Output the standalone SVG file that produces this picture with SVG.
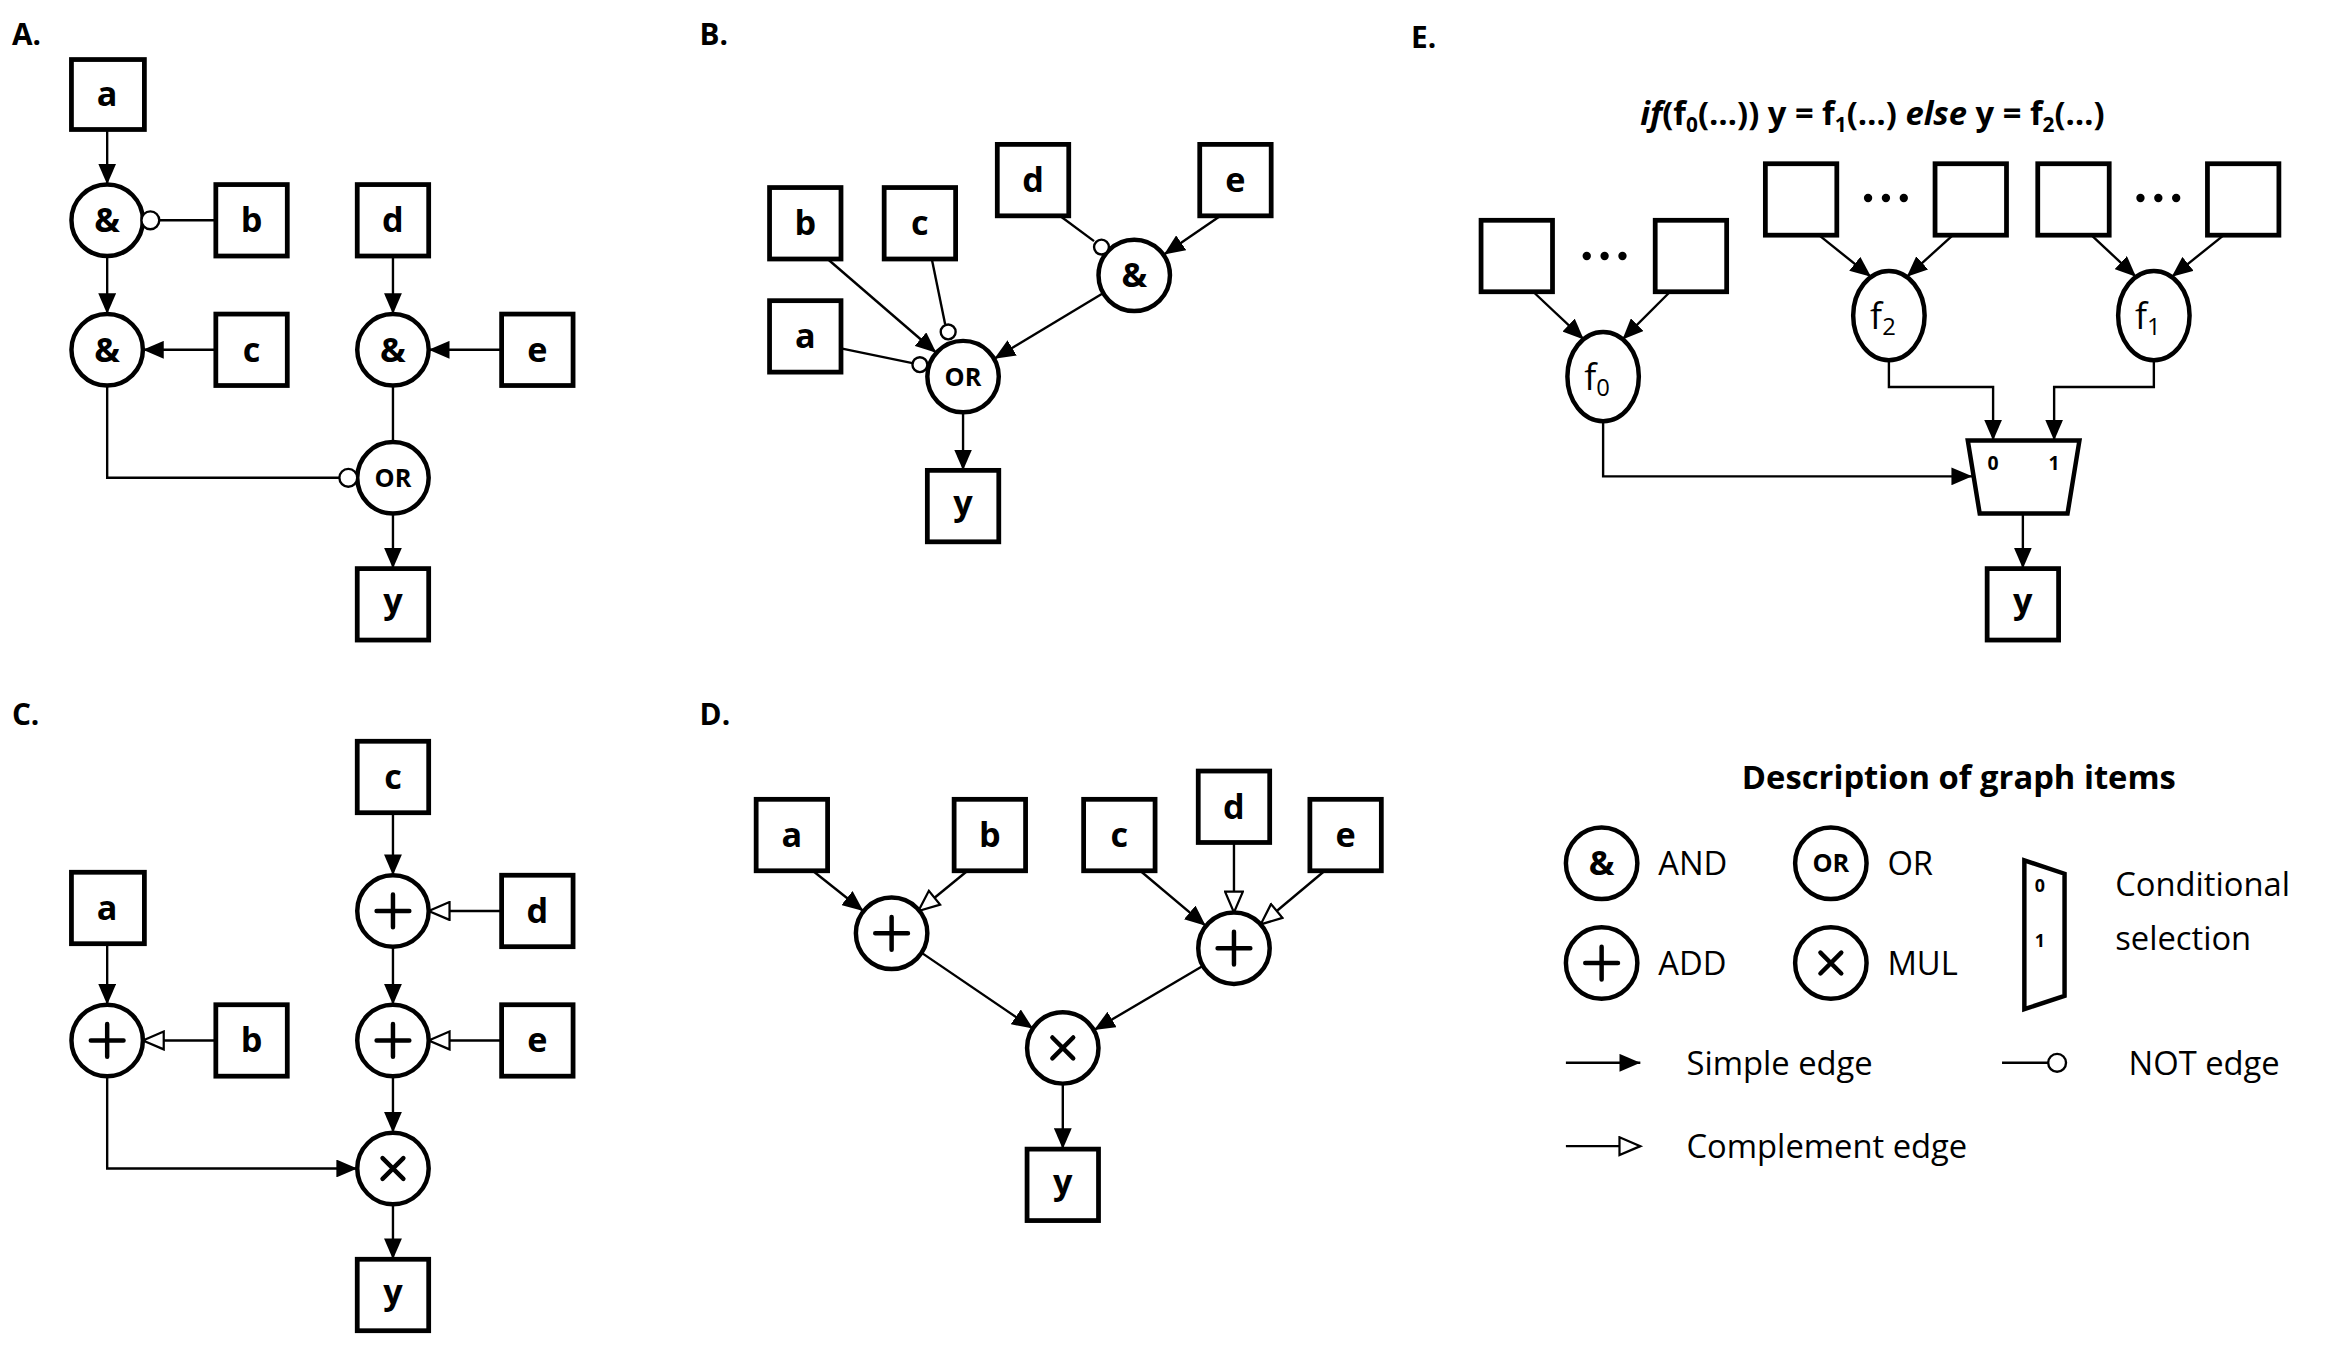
<svg xmlns="http://www.w3.org/2000/svg" width="2334" height="1349" viewBox="0 0 2334 1349">
<defs>
<marker id="ar" markerUnits="userSpaceOnUse" markerWidth="16" markerHeight="12" refX="14" refY="6" orient="auto"><path d="M0,0 L14,6 L0,12 Z" fill="#000"/></marker>
<marker id="co" markerUnits="userSpaceOnUse" markerWidth="18" markerHeight="14" refX="15" refY="7" orient="auto"><path d="M1,1 L15,7 L1,13 Z" fill="#fff" stroke="#000" stroke-width="1.5"/></marker>
</defs>
<style>
.b{fill:#fff;stroke:#000;stroke-width:3.2}
.n{fill:#fff;stroke:#000;stroke-width:3}
.nc{fill:#fff;stroke:#000;stroke-width:1.6}
.e{fill:none;stroke:#000;stroke-width:1.6}
.a{marker-end:url(#ar)}
.c{marker-end:url(#co)}
text{font-family:"Open Sans","Liberation Sans",sans-serif;fill:#000}
.l{font-size:23px;font-weight:bold;text-anchor:middle}
.s{font-size:17px;font-weight:bold;text-anchor:middle}
.p{font-size:20px;font-weight:bold}
.g{font-size:22px}
.sym{stroke:#000;stroke-width:3;fill:none;stroke-linecap:round}
</style>
<rect width="2334" height="1349" fill="#fff"/>
<g transform="scale(1.4885)">
<text class="p" x="8" y="30">A.</text>
<text class="p" x="470" y="30">B.</text>
<text class="p" x="8" y="487">C.</text>
<text class="p" x="470" y="487">D.</text>
<text class="p" x="948" y="32">E.</text>

<g id="connectors">
<!-- A -->
<line class="e a" x1="72" y1="87" x2="72" y2="124"/>
<line class="e" x1="107" y1="148" x2="145" y2="148"/>
<line class="e a" x1="72" y1="172" x2="72" y2="211"/>
<line class="e a" x1="145" y1="235" x2="96" y2="235"/>
<line class="e a" x1="264" y1="172" x2="264" y2="211"/>
<line class="e a" x1="337" y1="235" x2="288" y2="235"/>
<polyline class="e" points="72,259 72,321 228,321"/>
<line class="e a" x1="264" y1="259" x2="264" y2="382"/>
<!-- B -->
<line class="e a" x1="556" y1="174" x2="629" y2="237"/>
<line class="e" x1="626" y1="174" x2="635" y2="218"/>
<line class="e" x1="565" y1="234" x2="613" y2="244"/>
<line class="e" x1="712" y1="145" x2="735" y2="162"/>
<line class="e a" x1="820" y1="145" x2="782" y2="171"/>
<line class="e a" x1="741" y1="197" x2="668" y2="241"/>
<line class="e a" x1="647" y1="277" x2="647" y2="316"/>
<!-- C -->
<line class="e a" x1="264" y1="546" x2="264" y2="588"/>
<line class="e c" x1="337" y1="612" x2="288" y2="612"/>
<line class="e a" x1="264" y1="636" x2="264" y2="675"/>
<line class="e c" x1="337" y1="699" x2="288" y2="699"/>
<line class="e a" x1="264" y1="723" x2="264" y2="761"/>
<line class="e a" x1="264" y1="809" x2="264" y2="846"/>
<line class="e a" x1="72" y1="634" x2="72" y2="675"/>
<line class="e c" x1="145" y1="699" x2="96" y2="699"/>
<polyline class="e a" points="72,723 72,785 240,785"/>
<!-- D -->
<line class="e a" x1="546" y1="585" x2="580" y2="612"/>
<line class="e c" x1="650" y1="585" x2="617" y2="612"/>
<line class="e a" x1="766" y1="585" x2="810" y2="622"/>
<line class="e c" x1="829" y1="566" x2="829" y2="613"/>
<line class="e c" x1="890" y1="585" x2="847" y2="621"/>
<line class="e a" x1="619" y1="640" x2="694" y2="691"/>
<line class="e a" x1="808" y1="649" x2="735" y2="692"/>
<line class="e a" x1="714" y1="728" x2="714" y2="772"/>
<!-- E -->
<line class="e a" x1="1030" y1="196" x2="1064" y2="228"/>
<line class="e a" x1="1122" y1="196" x2="1090" y2="228"/>
<line class="e a" x1="1222" y1="158" x2="1257" y2="186"/>
<line class="e a" x1="1312" y1="158" x2="1281" y2="186"/>
<line class="e a" x1="1405" y1="158" x2="1435" y2="186"/>
<line class="e a" x1="1494" y1="158" x2="1459" y2="186"/>
<polyline class="e a" points="1077,283 1077,320 1325,320"/>
<polyline class="e a" points="1269,242 1269,260 1339,260 1339,296"/>
<polyline class="e a" points="1447,242 1447,260 1380,260 1380,296"/>
<line class="e a" x1="1359" y1="345" x2="1359" y2="382"/>
</g>

<!-- Panel A nodes -->
<g id="A_a"><rect class="b" x="48" y="40" width="49" height="47"/><text class="l" x="72" y="71">a</text></g>
<g id="A_and1"><circle class="n" cx="72" cy="148" r="24"/><text class="l" x="72" y="156">&amp;</text><circle class="nc" cx="101" cy="148" r="6"/></g>
<g id="A_b"><rect class="b" x="145" y="124" width="48" height="48"/><text class="l" x="169" y="156">b</text></g>
<g id="A_and2"><circle class="n" cx="72" cy="235" r="24"/><text class="l" x="72" y="243">&amp;</text></g>
<g id="A_c"><rect class="b" x="145" y="211" width="48" height="48"/><text class="l" x="169" y="243">c</text></g>
<g id="A_d"><rect class="b" x="240" y="124" width="48" height="48"/><text class="l" x="264" y="156">d</text></g>
<g id="A_and3"><circle class="n" cx="264" cy="235" r="24"/><text class="l" x="264" y="243">&amp;</text></g>
<g id="A_e"><rect class="b" x="337" y="211" width="48" height="48"/><text class="l" x="361" y="243">e</text></g>
<g id="A_or"><circle class="n" cx="264" cy="321" r="24"/><text class="s" x="264" y="327">OR</text><circle class="nc" cx="234" cy="321" r="6"/></g>
<g id="A_y"><rect class="b" x="240" y="382" width="48" height="48"/><text class="l" x="264" y="412">y</text></g>

<!-- Panel B nodes -->
<g id="B_d"><rect class="b" x="670" y="97" width="48" height="48"/><text class="l" x="694" y="129">d</text></g>
<g id="B_e"><rect class="b" x="806" y="97" width="48" height="48"/><text class="l" x="830" y="129">e</text></g>
<g id="B_b"><rect class="b" x="517" y="126" width="48" height="48"/><text class="l" x="541" y="158">b</text></g>
<g id="B_c"><rect class="b" x="594" y="126" width="48" height="48"/><text class="l" x="618" y="158">c</text></g>
<g id="B_a"><rect class="b" x="517" y="202" width="48" height="48"/><text class="l" x="541" y="234">a</text></g>
<g id="B_and"><circle class="n" cx="762" cy="185" r="24"/><text class="l" x="762" y="193">&amp;</text><circle class="nc" cx="740" cy="166" r="5"/></g>
<g id="B_or"><circle class="n" cx="647" cy="253" r="24"/><text class="s" x="647" y="259">OR</text><circle class="nc" cx="637" cy="223" r="5"/><circle class="nc" cx="618" cy="245" r="5"/></g>
<g id="B_y"><rect class="b" x="623" y="316" width="48" height="48"/><text class="l" x="647" y="346">y</text></g>

<!-- Panel C nodes -->
<g id="C_c"><rect class="b" x="240" y="498" width="48" height="48"/><text class="l" x="264" y="530">c</text></g>
<g id="C_add1"><circle class="n" cx="264" cy="612" r="24"/><path class="sym" d="M264,601 V623 M253,612 H275"/></g>
<g id="C_d"><rect class="b" x="337" y="588" width="48" height="48"/><text class="l" x="361" y="620">d</text></g>
<g id="C_add2"><circle class="n" cx="264" cy="699" r="24"/><path class="sym" d="M264,688 V710 M253,699 H275"/></g>
<g id="C_e"><rect class="b" x="337" y="675" width="48" height="48"/><text class="l" x="361" y="707">e</text></g>
<g id="C_mul"><circle class="n" cx="264" cy="785" r="24"/><path class="sym" d="M257,778 L271,792 M271,778 L257,792"/></g>
<g id="C_y"><rect class="b" x="240" y="846" width="48" height="48"/><text class="l" x="264" y="876">y</text></g>
<g id="C_a"><rect class="b" x="48" y="586" width="49" height="48"/><text class="l" x="72" y="618">a</text></g>
<g id="C_add3"><circle class="n" cx="72" cy="699" r="24"/><path class="sym" d="M72,688 V710 M61,699 H83"/></g>
<g id="C_b"><rect class="b" x="145" y="675" width="48" height="48"/><text class="l" x="169" y="707">b</text></g>

<!-- Panel D nodes -->
<g id="D_a"><rect class="b" x="508" y="537" width="48" height="48"/><text class="l" x="532" y="569">a</text></g>
<g id="D_b"><rect class="b" x="641" y="537" width="48" height="48"/><text class="l" x="665" y="569">b</text></g>
<g id="D_c"><rect class="b" x="728" y="537" width="48" height="48"/><text class="l" x="752" y="569">c</text></g>
<g id="D_d"><rect class="b" x="805" y="518" width="48" height="48"/><text class="l" x="829" y="550">d</text></g>
<g id="D_e"><rect class="b" x="880" y="537" width="48" height="48"/><text class="l" x="904" y="569">e</text></g>
<g id="D_add1"><circle class="n" cx="599" cy="627" r="24"/><path class="sym" d="M599,616 V638 M588,627 H610"/></g>
<g id="D_add2"><circle class="n" cx="829" cy="637" r="24"/><path class="sym" d="M829,626 V648 M818,637 H840"/></g>
<g id="D_mul"><circle class="n" cx="714" cy="704" r="24"/><path class="sym" d="M707,697 L721,711 M721,697 L707,711"/></g>
<g id="D_y"><rect class="b" x="690" y="772" width="48" height="48"/><text class="l" x="714" y="802">y</text></g>

<!-- Panel E -->
<text x="1258" y="84" text-anchor="middle" style="font-size:22px;font-weight:bold"><tspan font-style="italic">if</tspan>(f<tspan font-size="14" dy="5">0</tspan><tspan dy="-5">(…)) y = f</tspan><tspan font-size="14" dy="5">1</tspan><tspan dy="-5">(…) </tspan><tspan font-style="italic">else</tspan> y = f<tspan font-size="14" dy="5">2</tspan><tspan dy="-5">(…)</tspan></text>
<g id="E_in0a"><rect class="b" x="995" y="148" width="48" height="48"/></g>
<g id="E_in0b"><rect class="b" x="1112" y="148" width="48" height="48"/></g>
<g id="E_dots0"><circle cx="1066" cy="172" r="2.8"/><circle cx="1078" cy="172" r="2.8"/><circle cx="1090" cy="172" r="2.8"/></g>
<g id="E_in2a"><rect class="b" x="1186" y="110" width="48" height="48"/></g>
<g id="E_in2b"><rect class="b" x="1300" y="110" width="48" height="48"/></g>
<g id="E_dots2"><circle cx="1255" cy="133" r="2.8"/><circle cx="1267" cy="133" r="2.8"/><circle cx="1279" cy="133" r="2.8"/></g>
<g id="E_in1a"><rect class="b" x="1369" y="110" width="48" height="48"/></g>
<g id="E_in1b"><rect class="b" x="1483" y="110" width="48" height="48"/></g>
<g id="E_dots1"><circle cx="1438" cy="133" r="2.8"/><circle cx="1450" cy="133" r="2.8"/><circle cx="1462" cy="133" r="2.8"/></g>
<g id="E_f0"><ellipse class="n" cx="1077" cy="253" rx="24" ry="30"/><text x="1073" y="262" text-anchor="middle" style="font-size:24px">f<tspan font-size="16" dy="4">0</tspan></text></g>
<g id="E_f2"><ellipse class="n" cx="1269" cy="212" rx="24" ry="30"/><text x="1265" y="221" text-anchor="middle" style="font-size:24px">f<tspan font-size="16" dy="4">2</tspan></text></g>
<g id="E_f1"><ellipse class="n" cx="1447" cy="212" rx="24" ry="30"/><text x="1443" y="221" text-anchor="middle" style="font-size:24px">f<tspan font-size="16" dy="4">1</tspan></text></g>
<g id="E_mux"><path class="n" d="M1322,296 L1397,296 L1389,345 L1330,345 Z"/><text x="1339" y="316" style="font-size:13px;font-weight:bold" text-anchor="middle">0</text><text x="1380" y="316" style="font-size:13px;font-weight:bold" text-anchor="middle">1</text></g>
<g id="E_y"><rect class="b" x="1335" y="382" width="48" height="48"/><text class="l" x="1359" y="412">y</text></g>

<!-- Legend -->
<g id="legend">
<text x="1316" y="530" text-anchor="middle" style="font-size:22px;font-weight:bold">Description of graph items</text>
<circle class="n" cx="1076" cy="580" r="24"/><text class="l" x="1076" y="588">&amp;</text><text class="g" x="1114" y="588">AND</text>
<circle class="n" cx="1230" cy="580" r="24"/><text class="s" x="1230" y="586">OR</text><text class="g" x="1268" y="588">OR</text>
<circle class="n" cx="1076" cy="647" r="24"/><path class="sym" d="M1076,636 V658 M1065,647 H1087"/><text class="g" x="1114" y="655">ADD</text>
<circle class="n" cx="1230" cy="647" r="24"/><path class="sym" d="M1223,640 L1237,654 M1237,640 L1223,654"/><text class="g" x="1268" y="655">MUL</text>
<path class="n" d="M1360,578 L1387,587 L1387,669 L1360,678 Z"/>
<text x="1367" y="599" style="font-size:12px;font-weight:bold">0</text><text x="1367" y="636" style="font-size:12px;font-weight:bold">1</text>
<text class="g" x="1421" y="602">Conditional</text><text class="g" x="1421" y="638">selection</text>
<line class="e a" x1="1052" y1="714" x2="1102" y2="714"/><text class="g" x="1133" y="722">Simple edge</text>
<line class="e" x1="1345" y1="714" x2="1376" y2="714"/><circle class="nc" cx="1382" cy="714" r="6"/><text class="g" x="1430" y="722">NOT edge</text>
<line class="e c" x1="1052" y1="770" x2="1102" y2="770"/><text class="g" x="1133" y="778">Complement edge</text>
</g>
</g>
</svg>
